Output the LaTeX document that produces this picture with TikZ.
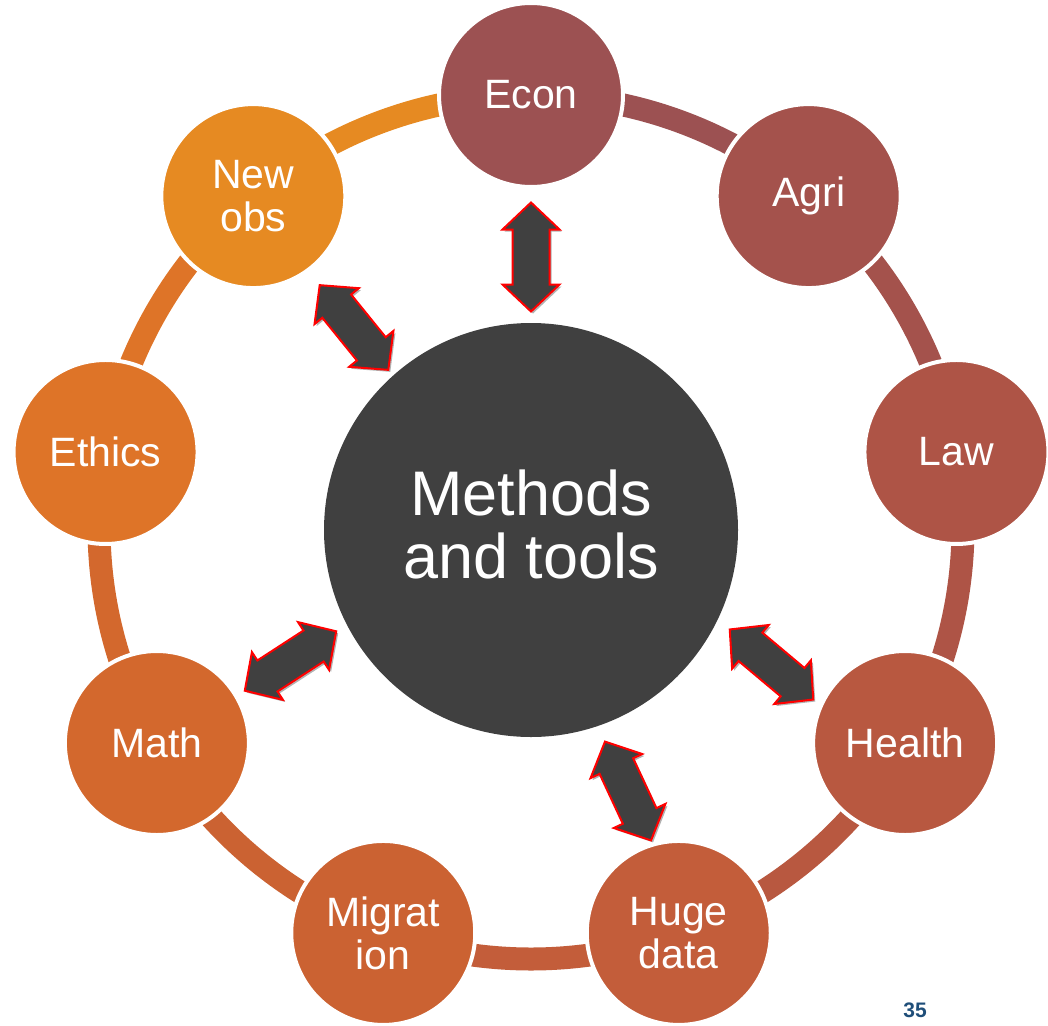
\documentclass[tikz,border=0pt]{standalone}
\usepackage{fontspec}
\setmainfont{Liberation Sans}
\usetikzlibrary{shadows}
\definecolor{cEcon}{RGB}{156,81,82}
\definecolor{cAgri}{RGB}{164,82,76}
\definecolor{cLaw}{RGB}{174,84,70}
\definecolor{cHealth}{RGB}{184,88,64}
\definecolor{cHuge}{RGB}{195,93,58}
\definecolor{cMigr}{RGB}{203,98,50}
\definecolor{cMath}{RGB}{211,104,45}
\definecolor{cEthics}{RGB}{222,116,40}
\definecolor{cNewobs}{RGB}{230,138,34}
\definecolor{hubgray}{RGB}{64,64,64}
\definecolor{pagenum}{RGB}{31,78,121}
\begin{document}
\begin{tikzpicture}[x=1pt,y=1pt,
  smallc/.style={circle, minimum size=184pt, inner sep=0pt, draw=white, line width=4pt,
    text=white, align=center, font=\fontsize{41}{43}\selectfont},
  ringseg/.style={line width=23pt},
  dbl/.style={fill=hubgray, draw=red, line width=2pt, line join=miter,
    drop shadow={shadow xshift=2pt, shadow yshift=-2pt, opacity=0.3, fill=black}},
  dblarrow/.pic={\draw[dbl] (-54.5,0) -- (-27.5,28.5) -- (-27.5,18.5) -- (27.5,18.5) -- (27.5,28.5)
      -- (54.5,0) -- (27.5,-28.5) -- (27.5,-18.5) -- (-27.5,-18.5) -- (-27.5,-28.5) -- cycle;}
]
\useasboundingbox (0,0) rectangle (1048,-1025);
\coordinate (O) at (531,-527);
% ring segments (colour of the preceding circle, clockwise)
\foreach \a/\b/\c in {90/50/cEcon, 50/10/cAgri, 10/-30/cLaw, -30/-70/cHealth, -70/-110/cHuge,
  -110/-150/cMigr, -150/-190/cMath, 170/130/cEthics, 130/90/cNewobs}
  \draw[ringseg, \c] (O) ++(\a:432) arc[start angle=\a, end angle=\b, radius=432];
% outer circles
\node[smallc, fill=cEcon]   (econ)   at ([shift={(90:432)}]O)   {Econ};
\node[smallc, fill=cAgri]   (agri)   at ([shift={(50:432)}]O)   {Agri};
\node[smallc, fill=cLaw]    (law)    at ([shift={(10:432)}]O)   {Law};
\node[smallc, fill=cHealth] (health) at ([shift={(-30:432)}]O)  {Health};
\node[smallc, fill=cHuge]   (huge)   at ([shift={(-70:432)}]O)  {Huge\\data};
\node[smallc, fill=cMigr]   (migr)   at ([shift={(-110:432)}]O) {Migrat\\ion};
\node[smallc, fill=cMath]   (math)   at ([shift={(-150:432)}]O) {Math};
\node[smallc, fill=cEthics] (ethics) at ([shift={(170:432)}]O)  {Ethics};
\node[smallc, fill=cNewobs] (newobs) at ([shift={(130:432)}]O)  {New\\obs};
% hub
\node[circle, fill=hubgray, minimum size=414pt, inner sep=0pt] (hub) at (531,-530) {};
\node[text=white, align=center, font=\fontsize{63}{63}\selectfont] (hubtext) at (531,-524) {Methods\\and tools};
% double arrows
\pic[rotate=90]  at (531,-257)   {dblarrow};
\pic[rotate=-51] at (354,-327.5) {dblarrow};
\pic[rotate=33]  at (290.5,-661) {dblarrow};
\pic[rotate=-40] at (771.5,-664.5) {dblarrow};
\pic[rotate=-65] at (628,-791)   {dblarrow};
% page number
\node[font=\bfseries\fontsize{21}{24}\selectfont, text=pagenum] (pnum) at (915,-1010) {35};
\end{tikzpicture}
\end{document}
